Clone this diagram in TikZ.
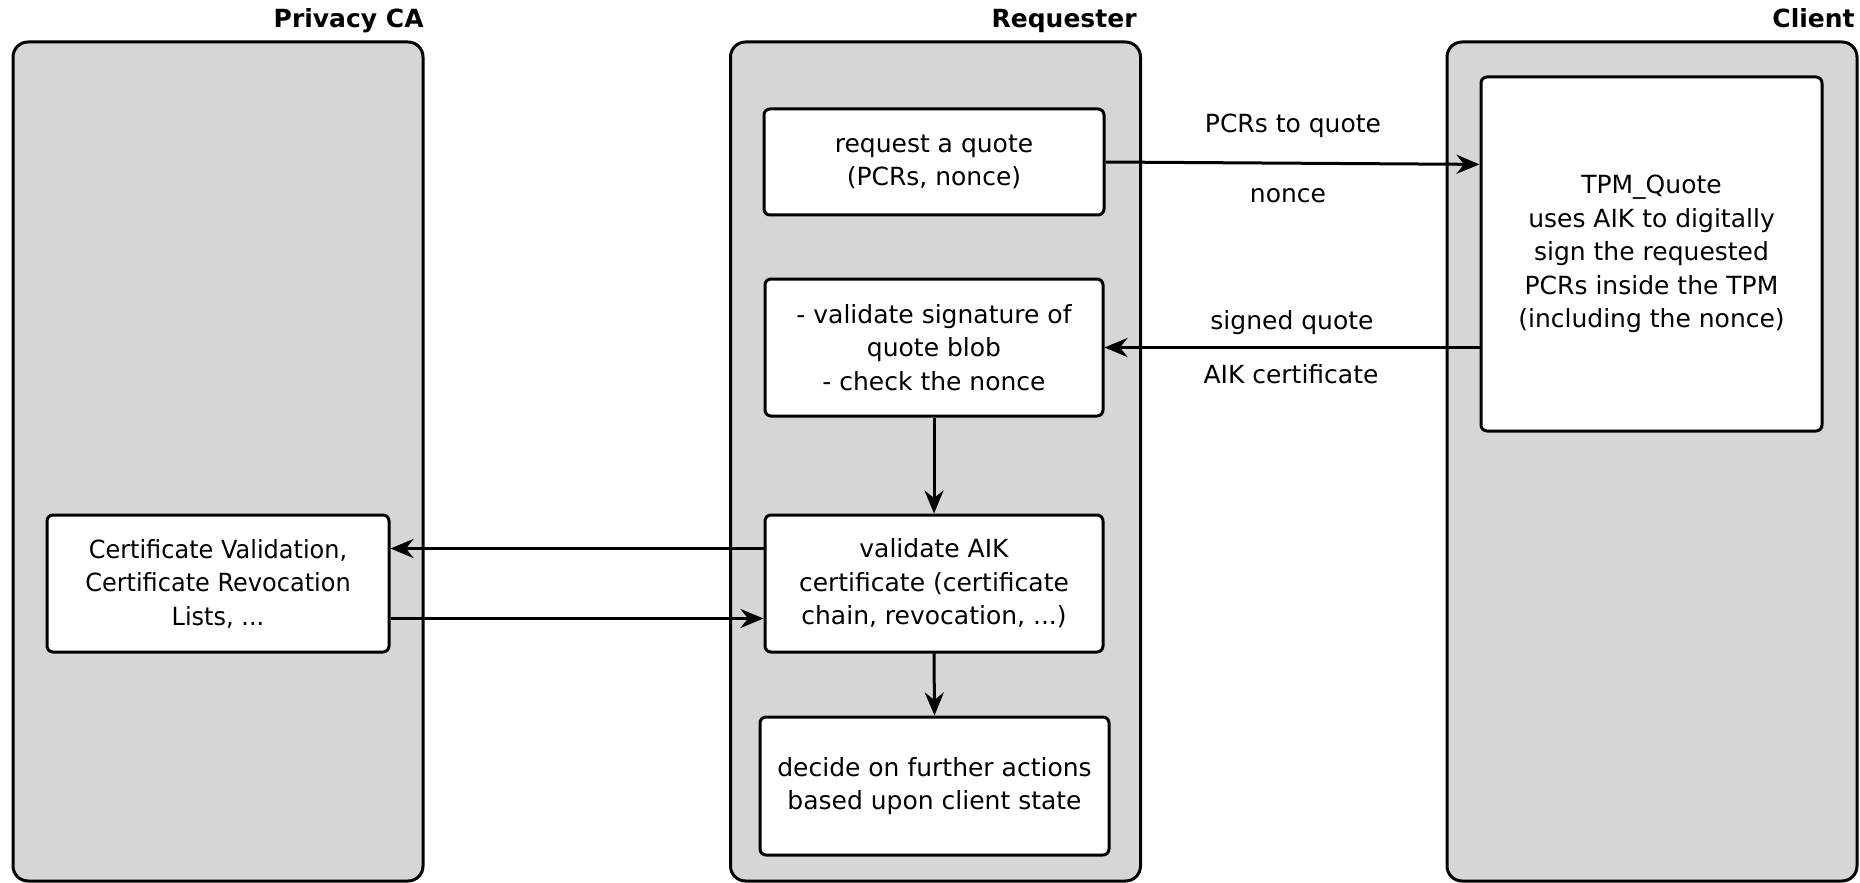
\documentclass[tikz,border=0pt]{standalone}
\usepackage{fontspec}
\setmainfont{DejaVu Sans}
\newfontfamily\narrowfont[FakeStretch=0.96]{DejaVu Sans}
\usetikzlibrary{arrows.meta,calc}
\definecolor{lanegray}{RGB}{214,214,214}
\begin{document}
\begin{tikzpicture}[x=0.5pt,y=-0.5pt,
  every node/.style={font=\fontsize{12.5pt}{16.75pt}\selectfont},
  lane/.style={draw=black,line width=1.5pt,fill=lanegray,rounded corners=7.5pt,
    minimum width=205pt,minimum height=419.5pt,inner sep=0pt},
  title/.style={anchor=base east,inner sep=0pt,font=\fontsize{12.5pt}{16.75pt}\selectfont\bfseries},
  box/.style={draw=black,line width=1.5pt,fill=white,rounded corners=3pt,
    align=center,inner sep=0pt},
  msg/.style={anchor=base,inner sep=0pt},
  arr/.style={line width=1.5pt,-{Stealth[length=11.5pt,width=9.5pt]}}
]
\useasboundingbox (0,0) rectangle (1860,883);

% swim lanes
\node[lane] (calane) at (218,461.5) {};
\node[lane] (reqlane) at (935.5,461.5) {};
\node[lane] (clilane) at (1652,461.5) {};
\node[title] (catitle) at (424,28) {Privacy CA};
\node[title] (reqtitle) at (1137,28) {Requester};
\node[title] (clititle) at (1855,28) {Client};

% requester steps
\node[box,minimum width=170pt,minimum height=53pt] (req) at (934,162)
  {request a quote\\(PCRs, nonce)};
\node[box,minimum width=169pt,minimum height=68.5pt] (sig) at (934,347.5)
  {- validate signature of\\quote blob\\- check the nonce};
\node[box,minimum width=169pt,minimum height=68.5pt] (aik) at (934,583.5)
  {validate AIK\\certificate (certificate\\chain, revocation, ...)};
\node[box,minimum width=174.5pt,minimum height=69pt] (decide) at (934.5,786)
  {decide on further actions\\based upon client state};

% privacy CA
\node[box,minimum width=171pt,minimum height=68.5pt,font=\fontsize{12.5pt}{16.75pt}\narrowfont] (cert) at (218,583.5)
  {Certificate Validation,\\Certificate Revocation\\Lists, ...};

% client
\node[box,minimum width=170.5pt,minimum height=177pt] (tpm) at (1651.5,254)
  {TPM\_Quote\\uses AIK to digitally\\sign the requested\\PCRs inside the TPM\\(including the nonce)};

% connectors
\coordinate (tpmin) at ($(tpm.north west)!0.249!(tpm.south west)$);
\draw[arr] (req.east) -- (tpmin);
\draw[arr] (tpm.west |- sig.east) -- (sig.east);
\draw[arr] (sig.south) -- (aik.north);
\draw[arr] (aik.south) -- (decide.north);
\coordinate (certin) at ($(cert.north east)!0.25!(cert.south east)$);
\coordinate (certout) at ($(cert.north east)!0.75!(cert.south east)$);
\draw[arr] (aik.west |- certin) -- (certin);
\draw[arr] (certout) -- (aik.west |- certout);

% message labels
\node[msg] (pcrlbl) at (1293,133) {PCRs to quote};
\node[msg] (noncelbl) at (1288,203) {nonce};
\node[msg] (signedlbl) at (1292,329) {signed quote};
\node[msg] (aiklbl) at (1291,383) {AIK certificate};
\end{tikzpicture}
\end{document}
